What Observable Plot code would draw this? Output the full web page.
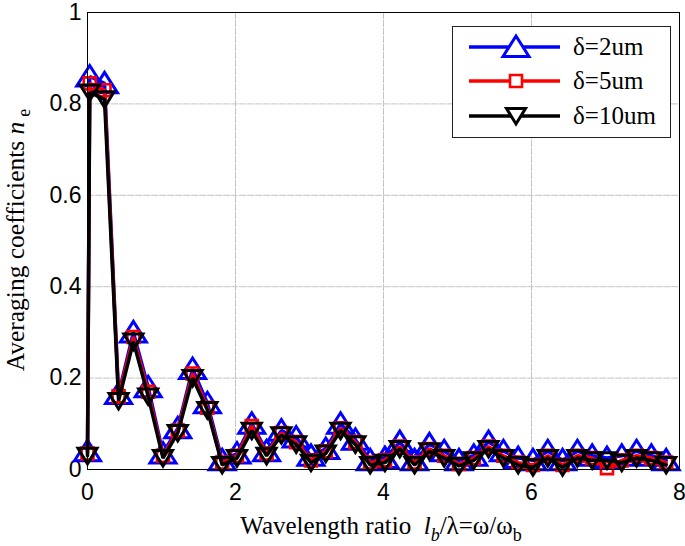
<!DOCTYPE html>
<html>
<head>
<meta charset="utf-8">
<script src="https://cdn.jsdelivr.net/npm/d3@7"></script>
<script src="https://cdn.jsdelivr.net/npm/@observablehq/plot@0.6"></script>
<style>
  body { margin: 0; background: white; }
  #wrap { position: relative; width: 685px; height: 546px; }
  #legend { position: absolute; left: 452px; top: 26px; }
</style>
</head>
<body>
<div id="wrap"></div>
<script>
// ---- data ----
const xVals = [0, 0.03, 0.23, 0.42, 0.62, 0.82, 1.02, 1.22, 1.42, 1.62, 1.82, 2.02, 2.22, 2.42, 2.62, 2.82, 3.02, 3.22, 3.42, 3.62, 3.82, 4.02, 4.22, 4.42, 4.62, 4.82, 5.02, 5.22, 5.42, 5.62, 5.82, 6.02, 6.22, 6.42, 6.62, 6.82, 7.02, 7.22, 7.42, 7.62, 7.82];
const blue2um  = [0.04, 0.86, 0.845, 0.165, 0.30, 0.18, 0.035, 0.09, 0.22, 0.145, 0.02, 0.035, 0.10, 0.04, 0.085, 0.07, 0.03, 0.045, 0.10, 0.065, 0.02, 0.025, 0.06, 0.02, 0.055, 0.04, 0.02, 0.03, 0.06, 0.04, 0.025, 0.02, 0.04, 0.02, 0.04, 0.03, 0.025, 0.03, 0.04, 0.03, 0.02];
const red5um   = [0.035, 0.845, 0.83, 0.16, 0.29, 0.17, 0.03, 0.085, 0.21, 0.135, 0.015, 0.03, 0.095, 0.035, 0.08, 0.06, 0.02, 0.04, 0.09, 0.06, 0.015, 0.02, 0.05, 0.015, 0.045, 0.03, 0.012, 0.025, 0.05, 0.03, 0.015, 0.01, 0.03, 0.01, 0.03, 0.025, 0.003, 0.02, 0.03, 0.025, 0.015];
const black10um = [0.03, 0.825, 0.81, 0.15, 0.28, 0.16, 0.025, 0.08, 0.20, 0.13, 0.01, 0.025, 0.085, 0.03, 0.075, 0.055, 0.015, 0.035, 0.085, 0.055, 0.01, 0.015, 0.045, 0.01, 0.04, 0.025, 0.008, 0.02, 0.045, 0.025, 0.01, 0.005, 0.025, 0.005, 0.025, 0.02, 0.02, 0.015, 0.025, 0.02, 0.01];
const seriesNames = ["δ=2um", "δ=5um", "δ=10um"];
const xTicks = [0, 2, 4, 6, 8];
const yTicks = [0, 0.2, 0.4, 0.6, 0.8, 1];
const xGrid = [2, 4, 6];
const yGrid = [0.2, 0.4, 0.6, 0.8];

// ---- marker shapes ----
const triUpPath = "M0,-11L13,9.5L-13,9.5Z";
const triDownPath = "M-9.5,-7.5L9.5,-7.5L0,8Z";
const squarePath = "M-6,-6H6V6H-6Z";
function pathSymbol(str) {
  return { draw(ctx) {
    const toks = str.match(/[MLHVZ]|-?[\d.]+/g);
    let i = 0, cx = 0, cy = 0, cmd = null;
    while (i < toks.length) {
      const t = toks[i];
      if (/[MLHVZ]/.test(t)) { cmd = t; i++; if (cmd === "Z") { ctx.closePath(); } continue; }
      if (cmd === "M" || cmd === "L") {
        cx = +toks[i]; cy = +toks[i + 1]; i += 2;
        if (cmd === "M") { ctx.moveTo(cx, cy); cmd = "L"; } else ctx.lineTo(cx, cy);
      } else if (cmd === "H") { cx = +toks[i]; i++; ctx.lineTo(cx, cy); }
      else if (cmd === "V") { cy = +toks[i]; i++; ctx.lineTo(cx, cy); }
      else i++;
    }
  }};
}

const colors = ["#0000ff", "#ff0000", "#000000"];
const paths = [triUpPath, squarePath, triDownPath];
const allY = [blue2um, red5um, black10um];

const marks = [
  Plot.gridX(xGrid, { stroke: "#c4c4c4", strokeOpacity: 1, strokeDasharray: "7,1" }),
  Plot.gridY(yGrid, { stroke: "#c4c4c4", strokeOpacity: 1, strokeDasharray: "7,1" })
];
allY.forEach((ys, s) => {
  const data = xVals.map((x, i) => ({ x, y: ys[i] }));
  marks.push(Plot.line(data, { x: "x", y: "y", stroke: colors[s], strokeWidth: 3.5, strokeLinejoin: "miter" }));
  marks.push(Plot.dot(data, { x: "x", y: "y", symbol: pathSymbol(paths[s]), r: 5, stroke: colors[s], strokeWidth: s === 1 ? 2.6 : 3, fill: "none" }));
});
marks.push(Plot.frame({ stroke: "#000", strokeWidth: 1 }));

const plot = Plot.plot({
  width: 685, height: 546,
  marginLeft: 87, marginRight: 6, marginTop: 12, marginBottom: 77,
  x: { domain: [0, 8], ticks: xTicks, label: null, tickSize: 0, tickPadding: 14, tickFormat: d => String(d) },
  y: { domain: [0, 1], ticks: yTicks, label: null, tickSize: 0, tickPadding: 6, tickFormat: d => String(d) },
  style: { fontFamily: "'Liberation Sans', Arial, sans-serif", fontSize: "23px", color: "black", background: "white", overflow: "visible" },
  marks
});
document.getElementById("wrap").appendChild(plot);

// axis titles (SVG text with italic / subscript parts)
const svg = d3.select(plot);
const serif = "'Liberation Serif', 'Times New Roman', serif";
const xl = svg.append("text").attr("x", 381).attr("y", 534).attr("text-anchor", "middle")
  .attr("font-family", serif).attr("font-size", 25).attr("fill", "black");
xl.append("tspan").text("Wavelength ratio\u00a0\u00a0");
xl.append("tspan").attr("font-style", "italic").text("l");
xl.append("tspan").attr("font-style", "italic").attr("font-size", 18).attr("dy", 7).text("b");
xl.append("tspan").attr("dy", -7).text("/λ=ω/ω");
xl.append("tspan").attr("font-size", 18).attr("dy", 7).text("b");

const yl = svg.append("text").attr("transform", "translate(24,240) rotate(-90)").attr("text-anchor", "middle")
  .attr("font-family", serif).attr("font-size", 25.5).attr("fill", "black");
yl.append("tspan").text("Averaging coefficients ");
yl.append("tspan").attr("font-style", "italic").text("n");
yl.append("tspan").attr("font-size", 18).attr("dx", 5).attr("dy", 6).text("e");

// legend
const lg = d3.select("#wrap").append("svg").attr("id", "legend").attr("width", 220).attr("height", 113);
lg.append("rect").attr("x", 0.5).attr("y", 0.5).attr("width", 218).attr("height", 111)
  .attr("fill", "white").attr("stroke", "#222").attr("stroke-width", 1);
const rowsY = [21, 55, 90];
seriesNames.forEach((name, s) => {
  const g = lg.append("g").attr("transform", `translate(0,${rowsY[s]})`);
  g.append("line").attr("x1", 17).attr("x2", 108).attr("stroke", colors[s]).attr("stroke-width", 3.5);
  g.append("path").attr("d", paths[s]).attr("transform", "translate(64,0)").attr("fill", "white")
    .attr("stroke", colors[s]).attr("stroke-width", s === 1 ? 2.6 : 3);
  g.append("text").attr("x", 121).attr("y", 8).attr("font-family", serif).attr("font-size", 25).attr("fill", "black").text(name);
});
</script>
</body>
</html>
